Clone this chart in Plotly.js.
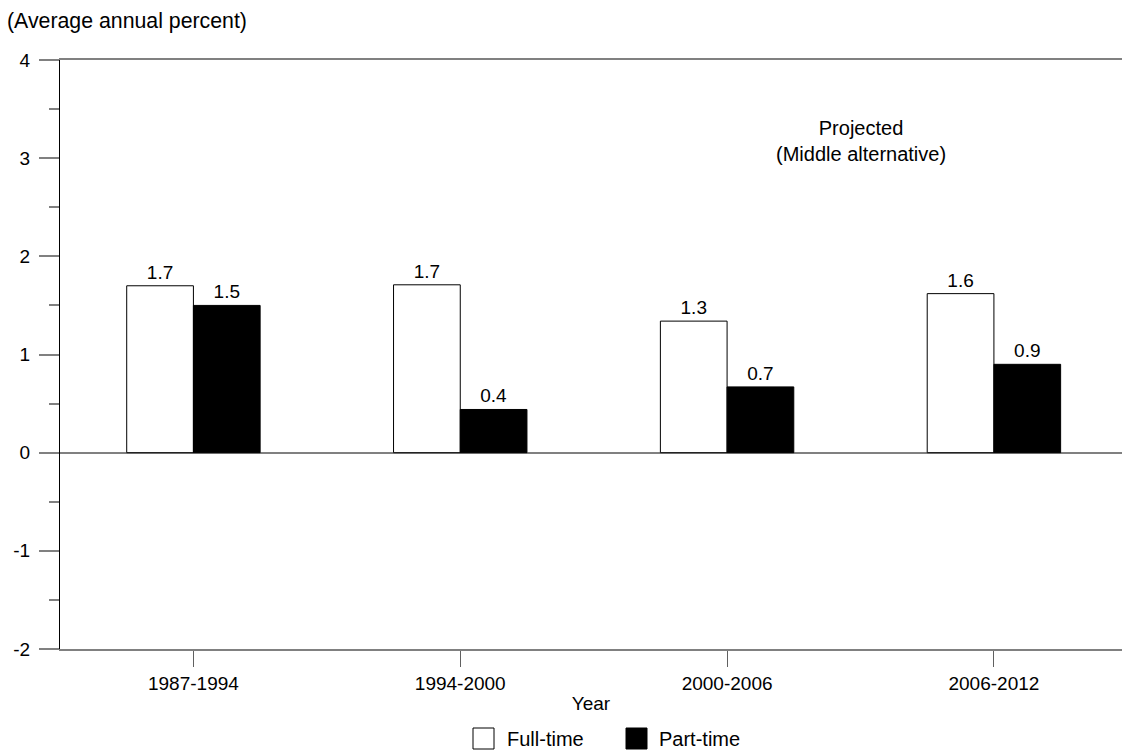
<!DOCTYPE html>
<html>
<head>
<meta charset="utf-8">
<script src="https://cdn.plot.ly/plotly-3.0.1.min.js"></script>
<style>
html,body{margin:0;padding:0;background:#fff;overflow:hidden;}
#chart{width:1122px;height:751px;}
</style>
</head>
<body>
<div id="chart"></div>
<script>
// Data
const periods = ["1987-1994", "1994-2000", "2000-2006", "2006-2012"];
const fullTime = [1.70, 1.71, 1.34, 1.62];
const partTime = [1.50, 0.44, 0.67, 0.90];
const seriesNames = ["Full-time", "Part-time"];
const seriesColors = ["#ffffff", "#000000"];
const yTickVals = [-2, -1, 0, 1, 2, 3, 4];
const yTickText = ["-2", "-1", "0", "1", "2", "3", "4"];
const yMinorVals = [-1.5, -0.5, 0.5, 1.5, 2.5, 3.5];
const yTitle = "(Average annual percent)";
const xTitle = "Year";
const noteText = "Projected<br>(Middle alternative)";

const FONT = "Liberation Sans, Arial, Helvetica, sans-serif";

// plot area in pixels: left 60, right 1122, top 60, bottom 649
const PL = 60, PR = 1122, PT = 60, PB = 649;
const px2x = p => (p - PL) / (PR - PL);
const py2y = p => (PB - p) / (PB - PT);

const traces = [fullTime, partTime].map((vals, i) => ({
  type: "bar", name: seriesNames[i], x: periods, y: vals,
  text: vals.map(v => v.toFixed(1)), textposition: "outside",
  textfont: {family: FONT, size: 19, color: "#000"},
  marker: {color: seriesColors[i], line: {color: "#000000", width: 1}},
  cliponaxis: false, hoverinfo: "skip", showlegend: false
}));

// custom legend (larger swatches, as in the reference)
const legendSwatchX = [473, 626];
const legendTextX = [505, 657];
const shapes = seriesNames.map((n, i) => ({
  type: "rect", xref: "paper", yref: "paper",
  x0: px2x(legendSwatchX[i]), x1: px2x(legendSwatchX[i] + 21),
  y0: py2y(749), y1: py2y(728),
  fillcolor: seriesColors[i], line: {color: "#000", width: 1}
}));
const legendAnn = seriesNames.map((n, i) => ({
  text: n, xref: "paper", yref: "paper",
  x: px2x(legendTextX[i]), y: py2y(739), xanchor: "left", yanchor: "middle",
  showarrow: false, font: {family: FONT, size: 20, color: "#000"}
}));

const layout = {
  width: 1122, height: 751,
  margin: {l: 60, r: 0, t: 60, b: 102, pad: 0, autoexpand: false},
  paper_bgcolor: "#fff", plot_bgcolor: "#fff",
  font: {family: FONT, size: 19, color: "#000"},
  barmode: "group", bargap: 0.5, bargroupgap: 0,
  showlegend: false,
  title: {
    text: yTitle, x: 7/1122, xref: "container", xanchor: "left",
    y: 1 - 21/751, yref: "container", yanchor: "middle",
    font: {family: FONT, size: 21.3, color: "#000"}
  },
  xaxis: {
    type: "category", range: [-0.5, 3.48], fixedrange: true, automargin: false,
    showline: true, linecolor: "#808080", linewidth: 2, mirror: true,
    ticks: "outside", ticklen: 16, tickcolor: "#606060", tickwidth: 1,
    showgrid: false, zeroline: false,
    tickfont: {family: FONT, size: 19, color: "#000"},
    title: {text: xTitle, standoff: 4, font: {family: FONT, size: 19, color: "#000"}}
  },
  yaxis: {
    range: [-2, 4], fixedrange: true, automargin: false,
    tickmode: "array", tickvals: yTickVals, ticktext: yTickText,
    showline: true, linecolor: "#000", linewidth: 1,
    ticks: "outside", ticklen: 20, tickcolor: "#808080", tickwidth: 2,
    minor: {tickmode: "array", tickvals: yMinorVals, ticks: "outside", ticklen: 10, tickcolor: "#808080", tickwidth: 2, showgrid: false},
    showgrid: false,
    zeroline: true, zerolinecolor: "#808080", zerolinewidth: 2,
    tickfont: {family: FONT, size: 19, color: "#000"},
    ticklabelstandoff: 5
  },
  shapes: shapes,
  annotations: [
    {
      text: noteText, xref: "x", yref: "y", x: 2.5, y: 3.18,
      showarrow: false, align: "center",
      font: {family: FONT, size: 20, color: "#000"}
    }
  ].concat(legendAnn)
};

Plotly.newPlot("chart", traces, layout, {displayModeBar: false, staticPlot: true});
</script>
</body>
</html>
